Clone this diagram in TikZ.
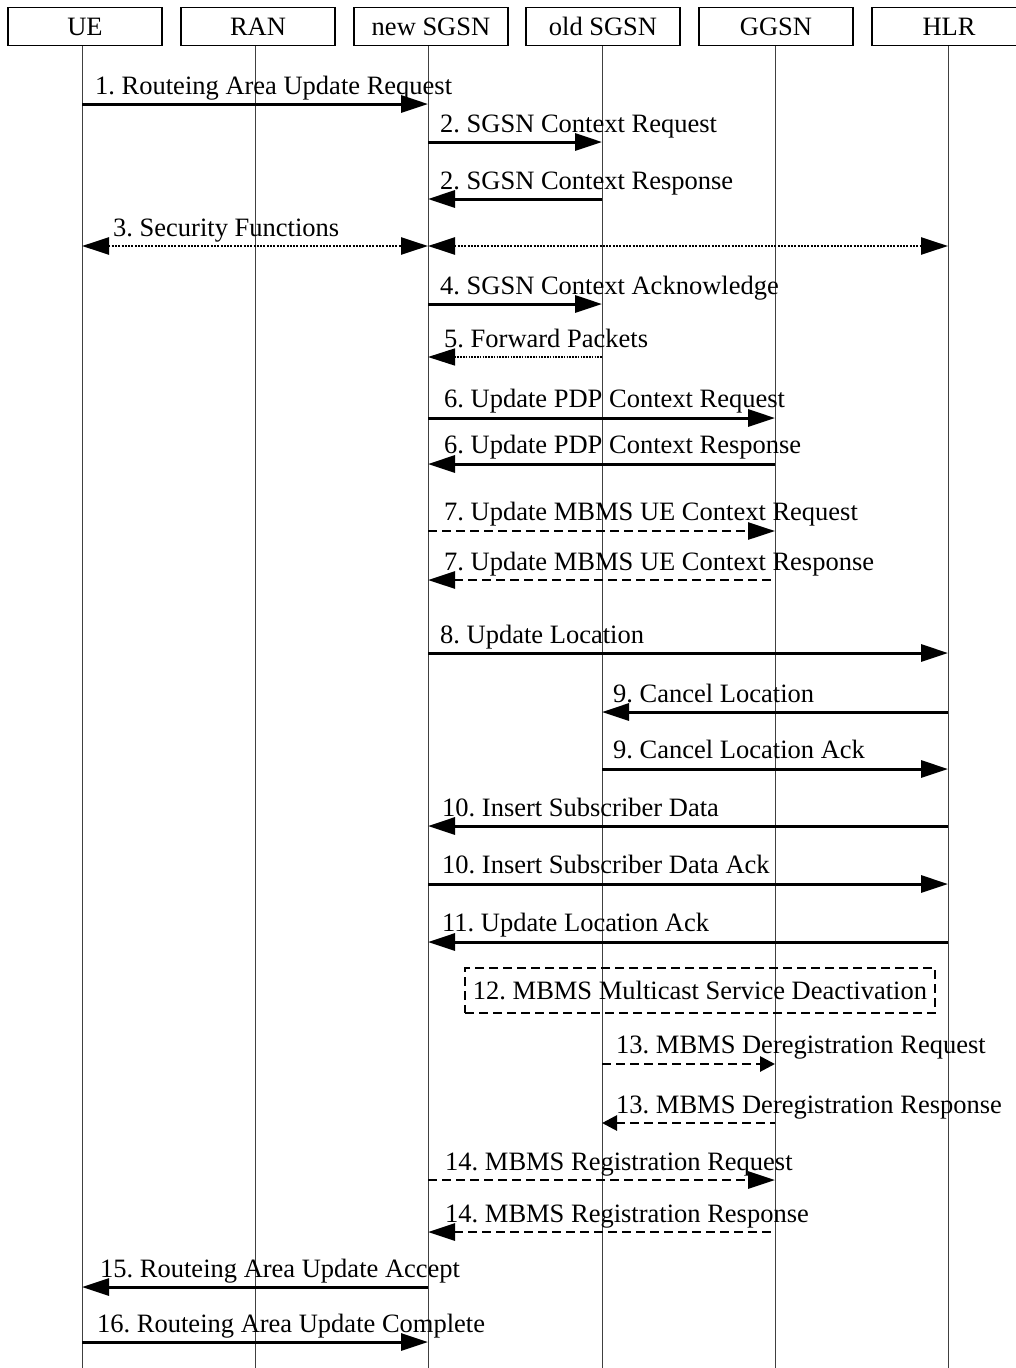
\documentclass[tikz,border=0pt]{standalone}
\usepackage{fontspec}
\setmainfont{Liberation Serif}
\usetikzlibrary{arrows.meta}
\frenchspacing
\begin{document}
\begin{tikzpicture}[x=1pt,y=-1pt,
  every node/.style={font=\fontsize{26.5}{30}\selectfont, inner sep=0pt},
  entity/.style={draw, line width=1.5pt, minimum width=154pt, minimum height=38pt},
  lifeline/.style={line width=1pt, draw=black!75},
  tipR/.style={-{Triangle[length=27pt,width=17pt]}},
  tipL/.style={{Triangle[length=27pt,width=17pt]}-},
  tipLR/.style={{Triangle[length=27pt,width=17pt]}-{Triangle[length=27pt,width=17pt]}},
  smalltipR/.style={-{Triangle[length=15pt,width=15pt]}},
  smalltipL/.style={{Triangle[length=15pt,width=15pt]}-},
  solidmsg/.style={line width=3pt},
  dottedmsg/.style={line width=2.5pt, dash pattern=on 2pt off 1.3pt},
  thindotted/.style={line width=1.5pt, dash pattern=on 1.5pt off 1.3pt},
  dashedmsg/.style={line width=2.8pt, dash pattern=on 9pt off 5pt},
  lbl/.style={anchor=base west}
]
\useasboundingbox (0,0) rectangle (1015,1368);
\fill[white] (0,0) rectangle (1015,1368);

% entities
\node[entity] (ue)    at (85,26.5)  {UE};
\node[entity] (ran)   at (258,26.5) {RAN};
\node[entity] (nsgsn) at (431,26.5) {new SGSN};
\node[entity] (osgsn) at (603,26.5) {old SGSN};
\node[entity] (ggsn)  at (776,26.5) {GGSN};
\node[entity] (hlr)   at (949,26.5) {HLR};

% lifelines
\coordinate (Lue)    at (82,46);
\coordinate (Lran)   at (255,46);
\coordinate (Lnsgsn) at (428,46);
\coordinate (Losgsn) at (602,46);
\coordinate (Lggsn)  at (775,46);
\coordinate (Lhlr)   at (948,46);
\coordinate (Bue)    at (82,1368);
\coordinate (Bran)   at (255,1368);
\coordinate (Bnsgsn) at (428,1368);
\coordinate (Bosgsn) at (602,1368);
\coordinate (Bggsn)  at (775,1368);
\coordinate (Bhlr)   at (948,1368);
\draw[lifeline] (Lue) -- (Bue);
\draw[lifeline] (Lran) -- (Bran);
\draw[lifeline] (Lnsgsn) -- (Bnsgsn);
\draw[lifeline] (Losgsn) -- (Bosgsn);
\draw[lifeline] (Lggsn) -- (Bggsn);
\draw[lifeline] (Lhlr) -- (Bhlr);

% 1
\draw[solidmsg,tipR] (Lue |- 0,104) -- (Lnsgsn |- 0,104);
\node[lbl] (m1) at (95,94) {1. Routeing Area Update Request};
% 2
\draw[solidmsg,tipR] (Lnsgsn |- 0,142) -- (Losgsn |- 0,142);
\node[lbl] (m2a) at (440,132) {2. SGSN Context Request};
\draw[solidmsg,tipL] (Lnsgsn |- 0,199) -- (Losgsn |- 0,199);
\node[lbl] (m2b) at (440,189) {2. SGSN Context Response};
% 3
\draw[dottedmsg,tipLR] (Lue |- 0,246) -- (Lnsgsn |- 0,246);
\draw[dottedmsg,tipLR] (Lnsgsn |- 0,246) -- (Lhlr |- 0,246);
\node[lbl] (m3) at (113,236) {3. Security Functions};
% 4
\draw[solidmsg,tipR] (Lnsgsn |- 0,304) -- (Losgsn |- 0,304);
\node[lbl] (m4) at (440,294) {4. SGSN Context Acknowledge};
% 5
\draw[thindotted,tipL] (Lnsgsn |- 0,357) -- (Losgsn |- 0,357);
\node[lbl] (m5) at (444,347) {5. Forward Packets};
% 6
\draw[solidmsg,tipR] (Lnsgsn |- 0,418) -- (Lggsn |- 0,418);
\node[lbl] (m6a) at (444,407) {6. Update PDP Context Request};
\draw[solidmsg,tipL] (Lnsgsn |- 0,464) -- (Lggsn |- 0,464);
\node[lbl] (m6b) at (444,453) {6. Update PDP Context Response};
% 7
\draw[dashedmsg,tipR] (Lnsgsn |- 0,531) -- (Lggsn |- 0,531);
\node[lbl] (m7a) at (444,520) {7. Update MBMS UE Context Request};
\draw[dashedmsg,tipL] (Lnsgsn |- 0,580) -- (Lggsn |- 0,580);
\node[lbl] (m7b) at (444,570) {7. Update MBMS UE Context Response};
% 8
\draw[solidmsg,tipR] (Lnsgsn |- 0,653) -- (Lhlr |- 0,653);
\node[lbl] (m8) at (440,643) {8. Update Location};
% 9
\draw[solidmsg,tipL] (Losgsn |- 0,712) -- (Lhlr |- 0,712);
\node[lbl] (m9a) at (613,702) {9. Cancel Location};
\draw[solidmsg,tipR] (Losgsn |- 0,769) -- (Lhlr |- 0,769);
\node[lbl] (m9b) at (613,758) {9. Cancel Location Ack};
% 10
\draw[solidmsg,tipL] (Lnsgsn |- 0,826) -- (Lhlr |- 0,826);
\node[lbl] (m10a) at (442,816) {10. Insert Subscriber Data};
\draw[solidmsg,tipR] (Lnsgsn |- 0,884) -- (Lhlr |- 0,884);
\node[lbl] (m10b) at (442,873) {10. Insert Subscriber Data Ack};
% 11
\draw[solidmsg,tipL] (Lnsgsn |- 0,942) -- (Lhlr |- 0,942);
\node[lbl] (m11) at (442,931) {11. Update Location Ack};
% 12
\node[draw, line width=2.8pt, dash pattern=on 9pt off 5pt,
      minimum width=470pt, minimum height=45pt] (m12) at (700,990.5)
      {12. MBMS Multicast Service Deactivation};
% 13
\draw[dashedmsg,smalltipR] (Losgsn |- 0,1064) -- (Lggsn |- 0,1064);
\node[lbl] (m13a) at (616,1053) {13. MBMS Deregistration Request};
\draw[dashedmsg,smalltipL] (Losgsn |- 0,1123) -- (Lggsn |- 0,1123);
\node[lbl] (m13b) at (616,1113) {13. MBMS Deregistration Response};
% 14
\draw[dashedmsg,tipR] (Lnsgsn |- 0,1180) -- (Lggsn |- 0,1180);
\node[lbl] (m14a) at (445,1170) {14. MBMS Registration Request};
\draw[dashedmsg,tipL] (Lnsgsn |- 0,1232) -- (Lggsn |- 0,1232);
\node[lbl] (m14b) at (445,1222) {14. MBMS Registration Response};
% 15
\draw[solidmsg,tipL] (Lue |- 0,1287) -- (Lnsgsn |- 0,1287);
\node[lbl] (m15) at (100,1277) {15. Routeing Area Update Accept};
% 16
\draw[solidmsg,tipR] (Lue |- 0,1342) -- (Lnsgsn |- 0,1342);
\node[lbl] (m16) at (97,1332) {16. Routeing Area Update Complete};
\end{tikzpicture}
\end{document}
